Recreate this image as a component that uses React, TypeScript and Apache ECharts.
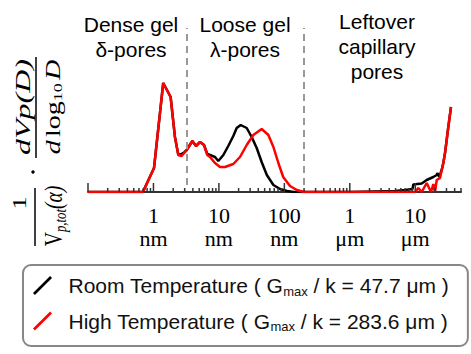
import React, { useEffect, useRef } from 'react';
import * as echarts from 'echarts';

// ---------- data ----------
const seriesNames = ['Room Temperature', 'High Temperature'];
const seriesColors = ['#000000', '#ff0000'];
const gmaxValues = ['47.7', '283.6'];

// pore diameter D (nm), normalised dVp/dlogD
const roomTemp: [number, number][] = [
  [0.1, 0], [0.69, 0], [1.02, 0.24], [1.41, 1.09], [1.83, 0.95], [2.13, 0.55], [2.4, 0.37],
  [2.7, 0.38], [3.0, 0.4], [3.22, 0.42], [3.93, 0.51], [4.47, 0.46], [5.14, 0.5], [5.92, 0.47],
  [6.65, 0.38], [7.31, 0.37], [8.71, 0.35], [9.8, 0.31], [11.7, 0.37], [13.9, 0.46], [16.6, 0.56],
  [18.7, 0.64], [21.5, 0.67], [26.6, 0.64], [31.7, 0.55], [37.8, 0.44], [45, 0.3], [54, 0.17],
  [68, 0.07], [86, 0.03], [110, 0.01], [140, 0], [1000, 0], [5000, 0.01], [7000, 0.02],
  [9080, 0.03], [9340, 0.075], [12540, 0.085], [14960, 0.12], [18880, 0.15], [21280, 0.17],
  [21730, 0.19], [23290, 0.15], [25350, 0.22], [26850, 0.29], [28500, 0.39], [30220, 0.52],
  [31990, 0.65], [35160, 0.85],
];
const highTemp: [number, number][] = [
  [0.1, 0], [0.69, 0], [1.02, 0.24], [1.41, 1.09], [1.83, 0.95], [2.13, 0.55], [2.4, 0.37],
  [2.7, 0.36], [3.22, 0.42], [3.93, 0.51], [4.47, 0.46], [5.14, 0.5], [5.92, 0.47], [6.65, 0.37],
  [7.31, 0.35], [8.71, 0.29], [10.4, 0.25], [12.4, 0.25], [16.6, 0.28], [21, 0.35], [26.6, 0.47],
  [33.6, 0.57], [45, 0.63], [57, 0.57], [68, 0.45], [81, 0.29], [96, 0.15], [122, 0.06],
  [155, 0.02], [200, 0], [1000, 0], [9000, 0], [10000, 0], [11140, 0.04], [12540, 0],
  [14960, 0.09], [17400, 0], [18880, 0.08], [20040, 0], [21280, 0.12], [23880, 0.14],
  [26850, 0.29], [28500, 0.39], [30220, 0.52], [31990, 0.65], [35160, 0.85],
];

const xMin = 0.1;
const xMax = 50000;
const tickExponents = [0, 1, 2, 3, 4];
const tickLabels = ['1\nnm', '10\nnm', '100\nnm', '1\nμm', '10\nμm'];
const majorTicks = [0.1, 1, 10, 100, 1000, 10000];
const minorTicks = [
  0.2, 0.3, 0.4, 0.5, 0.6, 0.7, 0.8, 0.9,
  2, 3, 4, 5, 6, 7, 8, 9,
  20, 30, 40, 50, 60, 70, 80, 90,
  200, 300, 400, 500, 600, 700, 800, 900,
  2000, 3000, 4000, 5000, 6000, 7000, 8000, 9000,
  20000, 30000, 40000, 50000,
];
const regionBoundaries = [3.2, 200];
const dashLow = 0.07;
const dashHigh = 1.64;
const regionLabels = ['Dense gel\nδ-pores', 'Loose gel\nλ-pores', 'Leftover\ncapillary\npores'];

const SANS = '"Liberation Sans", Arial, sans-serif';
const SERIF = '"Liberation Serif", "Times New Roman", serif';

function tickSeries(values: number[], len: number) {
  return {
    type: 'custom',
    silent: true,
    z: 5,
    data: values.map((v) => [v, 0]),
    renderItem: (_p: any, api: any) => {
      const p = api.coord([api.value(0), 0]);
      return {
        type: 'line',
        shape: { x1: p[0], y1: p[1], x2: p[0], y2: p[1] - len },
        style: { stroke: '#333', lineWidth: 1.5 },
      };
    },
  };
}

const centered = {
  textAlign: 'center', align: 'center', textVerticalAlign: 'middle', verticalAlign: 'middle',
};

export default function App() {
  const ref = useRef<HTMLDivElement>(null);
  useEffect(() => {
    if (!ref.current) return;
    const chart = echarts.init(ref.current, undefined, { renderer: 'svg' });
    const lineSeries = [roomTemp, highTemp].map((d, i) => ({
      name: seriesNames[i],
      type: 'line',
      data: d,
      showSymbol: false,
      smooth: false,
      color: seriesColors[i],
      lineStyle: { color: seriesColors[i], width: 2.5 },
      z: 3 + i,
      ...(i === 0
        ? {
            markLine: {
              silent: true,
              symbol: 'none',
              label: { show: false },
              lineStyle: { color: '#999', width: 2, type: [7, 5] },
              data: regionBoundaries.map((b) => [
                { coord: [b, dashLow] },
                { coord: [b, dashHigh] },
              ]),
            },
          }
        : {}),
    }));

    const regionStyle = {
      font: `21px ${SANS}`,
      fill: '#000',
      ...centered,
      lineHeight: 25,
    };
    const tok = (size: number, italic: boolean, extra: any = {}) => ({
      fontFamily: SERIF, fontStyle: italic ? 'italic' : 'normal', fontSize: size,
      fill: '#000', color: '#000', ...extra,
    });

    const option: any = {
      animation: false,
      backgroundColor: '#fff',
      grid: { left: 88, right: 10, top: 20, bottom: 162 },
      xAxis: {
        type: 'log',
        logBase: 10,
        min: xMin,
        max: xMax,
        axisLine: { show: true, lineStyle: { color: '#333', width: 2 } },
        axisTick: { show: false },
        splitLine: { show: false },
        axisLabel: {
          margin: 12,
          fontFamily: SERIF,
          fontSize: 22,
          lineHeight: 23,
          color: '#000',
          hideOverlap: false,
          formatter: (v: number) => {
            const e = Math.round(Math.log10(v));
            if (Math.abs(Math.log10(v) - e) > 1e-6) return '';
            const idx = tickExponents.indexOf(e);
            return idx >= 0 ? tickLabels[idx] : '';
          },
        },
      },
      yAxis: { type: 'value', min: 0, max: 1.72, show: false },
      legend: {
        data: seriesNames,
        orient: 'vertical',
        left: 23,
        top: 265,
        padding: [10, 19, 13, 10],
        itemGap: 13,
        itemWidth: 26,
        itemHeight: 19,
        icon: 'path://M0,18 L2,20 L20,2 L18,0 Z',
        borderColor: '#888',
        borderWidth: 2,
        borderRadius: 8,
        backgroundColor: '#fff',
        formatter: (name: string) => {
          const i = seriesNames.indexOf(name);
          return `{a0|${name} ( G}{s|max}{a| / k = ${gmaxValues[i]} μm )}`;
        },
        textStyle: {
          color: '#111',
          rich: {
            a0: { fontFamily: SANS, fontSize: 21, color: '#111', lineHeight: 24, padding: [0, 0, 0, 8] },
            a: { fontFamily: SANS, fontSize: 21, color: '#111', lineHeight: 24 },
            s: { fontFamily: SANS, fontSize: 13, color: '#111', lineHeight: 13, verticalAlign: 'bottom' },
          },
        },
      },
      graphic: [
        { type: 'text', x: 131, y: 37, style: { ...regionStyle, text: regionLabels[0] } },
        { type: 'text', x: 245, y: 37, style: { ...regionStyle, text: regionLabels[1] } },
        { type: 'text', x: 377, y: 46, style: { ...regionStyle, text: regionLabels[2] } },
        // y-axis title (rotated formula, squeezed across its reading direction)
        {
          type: 'text', x: 20, y: 203, rotation: Math.PI / 2, scaleX: 1.0, scaleY: 0.72,
          style: { text: '1', font: `26px ${SERIF}`, fill: '#000', ...centered },
        },
        { type: 'line', shape: { x1: 35, y1: 188, x2: 35, y2: 246 }, style: { stroke: '#000', lineWidth: 1.5 } },
        {
          type: 'text', x: 54, y: 216, rotation: Math.PI / 2, scaleX: 0.85, scaleY: 1.1,
          style: {
            text: '{r|V}{s|p,tot}{i|(α)}',
            ...centered,
            rich: {
              r: tok(23, false, { lineHeight: 26 }),
              i: tok(23, true, { lineHeight: 26 }),
              s: tok(15, true, { lineHeight: 15, verticalAlign: 'bottom' }),
            },
          },
        },
        { type: 'circle', shape: { cx: 33, cy: 172, r: 1.7 }, style: { fill: '#000' } },
        {
          type: 'text', x: 23, y: 107, rotation: Math.PI / 2, scaleX: 1.0, scaleY: 0.68,
          style: { text: 'dVp(D)', font: `italic 32px ${SERIF}`, fill: '#000', ...centered },
        },
        { type: 'line', shape: { x1: 36, y1: 57, x2: 36, y2: 158 }, style: { stroke: '#000', lineWidth: 1.5 } },
        {
          type: 'text', x: 53, y: 107, rotation: Math.PI / 2, scaleX: 1.0, scaleY: 0.74,
          style: {
            text: '{i|d} {r|log}{s|10} {i|D}',
            ...centered,
            rich: {
              r: tok(28, false, { lineHeight: 30 }),
              i: tok(28, true, { lineHeight: 30 }),
              s: tok(18, false, { lineHeight: 18, verticalAlign: 'bottom' }),
            },
          },
        },
      ],
      series: [
        ...lineSeries,
        tickSeries(majorTicks, 9),
        tickSeries(minorTicks, 4),
      ],
    };
    chart.setOption(option);
    return () => chart.dispose();
  }, []);
  return <div ref={ref} style={{ width: 471, height: 354, position: 'absolute', left: 0, top: 0 }} />;
}
